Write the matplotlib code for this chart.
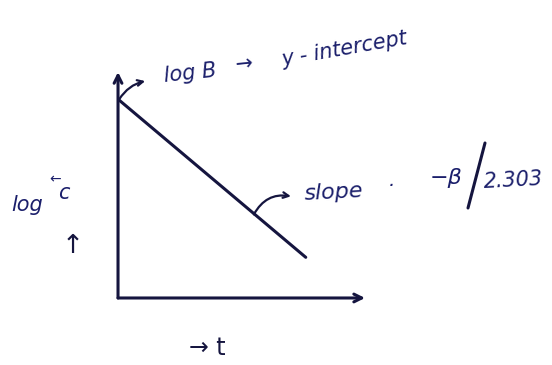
import matplotlib
matplotlib.use("Agg")
import matplotlib.pyplot as plt
from matplotlib.lines import Line2D

# First-order decay: log C falls linearly with time t
t = [0.0, 7.6]
log_c = [8.8, 1.8]

ink = "#15153f"
text_ink = "#1b1f6b"

W, H = 552, 365
fig = plt.figure(figsize=(W / 100, H / 100), dpi=100)
fig.patch.set_facecolor("white")


def px(x, y):
    """Pixel position (from top-left) to figure fraction."""
    return x / W, 1 - y / H


ax = fig.add_axes([0.2138, 0.1836, 0.4475, 0.619])
ax.set_xlim(0, 10)
ax.set_ylim(0, 10)
for s in ax.spines.values():
    s.set_visible(False)
ax.set_xticks([])
ax.set_yticks([])

# axes drawn as arrows
ax.annotate("", xy=(0, 1.0), xytext=(0, 0), xycoords="axes fraction",
            arrowprops=dict(arrowstyle="->", lw=2.2, color=ink,
                            shrinkA=0, shrinkB=0, mutation_scale=14))
ax.annotate("", xy=(1.0, 0), xytext=(0, 0), xycoords="axes fraction",
            arrowprops=dict(arrowstyle="->", lw=2.2, color=ink,
                            shrinkA=0, shrinkB=0, mutation_scale=14))

# the straight line
ax.plot(t, log_c, color=ink, lw=2.2, solid_capstyle="round")

# intercept callout
ax.annotate("", xy=(1.1, 9.6), xytext=(0.05, log_c[0]),
            arrowprops=dict(arrowstyle="->", lw=1.6, color=ink,
                            connectionstyle="arc3,rad=-0.2",
                            mutation_scale=10, shrinkA=0, shrinkB=0))
kw = dict(color=text_ink, style="italic", ha="left", va="baseline")
fig.text(*px(163, 82), "log B", fontsize=15, rotation=6, **kw)
fig.text(*px(234, 71), "\u2192", fontsize=15, rotation=6, **kw)
fig.text(*px(280, 66), "y - intercept", fontsize=15, rotation=10, **kw)

# slope callout
ax.annotate("", xy=(7.0, 4.5), xytext=(5.5, 3.7),
            arrowprops=dict(arrowstyle="->", lw=1.6, color=ink,
                            connectionstyle="arc3,rad=-0.35",
                            mutation_scale=10, shrinkA=0, shrinkB=0))
fig.text(*px(304, 200), "slope", fontsize=16, rotation=3, **kw)
fig.text(*px(388, 192), "\u00b7", fontsize=14, **kw)
fig.text(*px(430, 184), "\u2212\u03b2", fontsize=16, **kw)
# fraction bar of -β / 2.303
x0, y0 = px(485, 143)
x1, y1 = px(468, 208)
fig.add_artist(Line2D([x0, x1], [y0, y1], transform=fig.transFigure,
                      color=ink, lw=2.2, solid_capstyle="round"))
fig.text(*px(483, 188), "2.303", fontsize=15, rotation=3, **kw)

# y-axis label
fig.text(0.02, 0.41, "log", color=text_ink, fontsize=15, style="italic",
         ha="left", va="bottom")
fig.text(0.09, 0.49, "\u2190", color=text_ink, fontsize=10,
         ha="left", va="bottom")
fig.text(0.105, 0.445, "c", color=text_ink, fontsize=15, style="italic",
         ha="left", va="bottom")
fig.text(0.132, 0.29, "\u2191", color=ink, fontsize=19, ha="center",
         va="bottom")

# x-axis label
fig.text(0.375, 0.015, "\u2192 t", color=ink, fontsize=17, ha="center",
         va="bottom")

fig.savefig("out.png", dpi=100, facecolor="white")
